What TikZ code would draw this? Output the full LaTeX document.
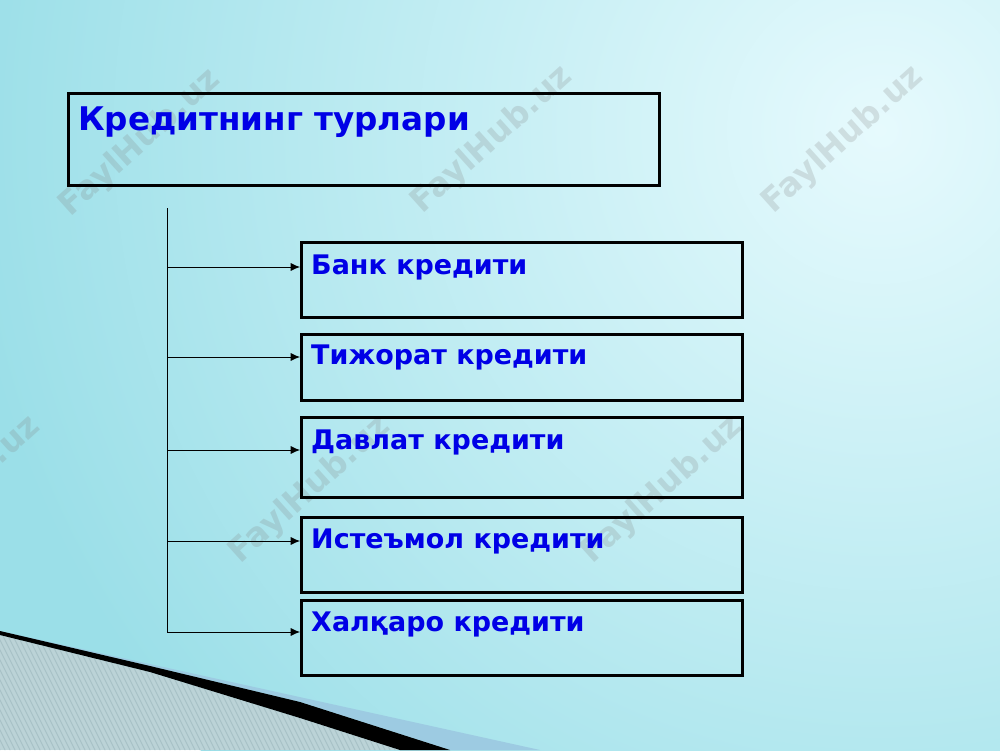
\documentclass[tikz,border=0pt]{standalone}
\usepackage{fontspec}
\setmainfont{DejaVu Sans}
\usetikzlibrary{arrows.meta,calc}
\definecolor{bgbase}{HTML}{9BDFE8}
\definecolor{bglight}{HTML}{E6FAFD}
\definecolor{band}{HTML}{9DCBE2}
\definecolor{hatchbg}{HTML}{BBD3D7}
\definecolor{hatchline}{HTML}{A8C2C7}
\definecolor{txtblue}{HTML}{0000E6}
\tikzset{
  box/.style={draw=black,line width=2.3pt,anchor=north west,inner sep=0pt,minimum width=13.23cm},
  headbox/.style={box,minimum width=17.73cm,minimum height=2.76cm},
  title/.style={anchor=base west,inner sep=0pt,text=txtblue,font=\bfseries\fontsize{27.8}{32}\selectfont},
  item/.style={anchor=base west,inner sep=0pt,text=txtblue,font=\bfseries\fontsize{23}{28}\selectfont},
  link/.style={-{Latex[length=8pt,width=7pt]},line width=0.8pt},
  wm/.style={rotate=42,text=gray,opacity=0.22,font=\bfseries\fontsize{28}{32}\selectfont}
}

\begin{document}
\begin{tikzpicture}[x=0.03cm,y=-0.03cm]
  % background
  \fill[bgbase] (0,0) rectangle (1000,750);
  \begin{scope}
    \clip (0,0) rectangle (1000,750);
    \shade[inner color=bglight,outer color=bgbase] (880,130) circle (920);
  \end{scope}
  \useasboundingbox (0,0) rectangle (1000,750);

  % bottom left corner
  \fill[band] (0,631) -- (540,750) -- (450,750) -- (300,702) -- (150,666) -- cycle;
  \begin{scope}
    \clip (0,635) -- (150,672) -- (300,718) -- (400,750) -- (0,750) -- cycle;
    \fill[hatchbg] (0,600) rectangle (420,750);
    \foreach \i in {-120,-115,...,420}
      \draw[hatchline,line width=0.9pt] (\i,600) -- ++(80,160);
  \end{scope}
  \fill[black] (0,631) -- (150,666) -- (300,702) -- (450,750) -- (400,750) -- (300,718) -- (150,672) -- (0,635) -- cycle;

  % watermarks
  \foreach \x/\y in {140/143,492/140,843/140,-40/490,310/490,662/490}
    \node[wm] at (\x,\y) {FaylHub.uz};

  % title
  \node[headbox] (head) at (67,92) {};
  \node[title] (t0) at (78,130) {Кредитнинг турлари};

  % items
  \node[box,minimum height=2.25cm] (b1) at (300,241) {};
  \node[box,minimum height=1.98cm] (b2) at (300,333) {};
  \node[box,minimum height=2.4cm] (b3) at (300,416) {};
  \node[box,minimum height=2.25cm] (b4) at (300,516) {};
  \node[box,minimum height=2.25cm] (b5) at (300,599) {};
  \node[item] (t1) at (311,274) {Банк кредити};
  \node[item] (t2) at (311,364) {Тижорат кредити};
  \node[item] (t3) at (311,449) {Давлат кредити};
  \node[item] (t4) at (311,548) {Истеъмол кредити};
  \node[item] (t5) at (311,631) {Халқаро кредити};

  % connectors
  \coordinate (top) at (167,208);
  \coordinate (j1) at (167,267);
  \coordinate (j2) at (167,357);
  \coordinate (j3) at (167,450);
  \coordinate (j4) at (167,541);
  \coordinate (j5) at (167,632);
  \draw[line width=0.8pt] (top) -- (j5);
  \foreach \k in {1,...,5}
    \draw[link] (j\k) -- (j\k -| b\k.west);
\end{tikzpicture}
\end{document}
